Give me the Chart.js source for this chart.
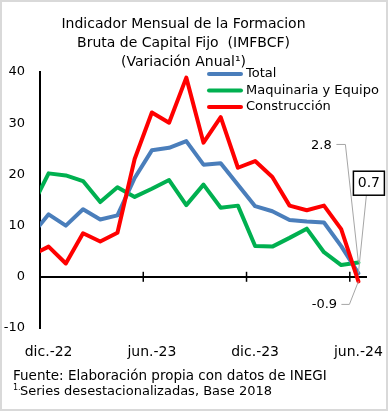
<!DOCTYPE html>
<html><head><meta charset="utf-8">
<script src="https://cdn.jsdelivr.net/npm/chart.js@4.4.0/dist/chart.umd.min.js"></script>
<style>html,body{margin:0;padding:0;background:#fff}#wrap{width:388px;height:411px;position:relative}</style>
</head><body><div id="wrap"><canvas id="c" width="388" height="411"></canvas></div>
<script>
const months = ['nov.-22','dic.-22','ene.-23','feb.-23','mar.-23','abr.-23','may.-23','jun.-23','jul.-23','ago.-23','sep.-23','oct.-23','nov.-23','dic.-23','ene.-24','feb.-24','mar.-24','abr.-24','may.-24','jun.-24'];
const total = [8.1, 12.2, 10.0, 13.2, 11.2, 12.0, 19.3, 24.7, 25.2, 26.5, 21.9, 22.2, 18.0, 13.8, 12.8, 11.1, 10.8, 10.6, 6.0, 0.7];
const maquinaria = [13.5, 20.2, 19.8, 18.7, 14.6, 17.5, 15.6, 17.2, 18.9, 14.0, 18.0, 13.5, 13.9, 6.0, 5.9, 7.6, 9.4, 4.8, 2.3, 2.8];
const construccion = [4.2, 5.9, 2.6, 8.5, 6.9, 8.6, 23.0, 32.1, 30.1, 38.9, 26.2, 31.2, 21.3, 22.6, 19.5, 13.9, 13.0, 13.9, 9.3, -0.9];
const shownLabels = ['dic.-22','jun.-23','dic.-23','jun.-24'];
const yTicks = [-10, 0, 10, 20, 30, 40];
const titleLines = ['Indicador Mensual de la Formacion', 'Bruta de Capital Fijo  (IMFBCF)', '(Variación Anual\u00B9)'];
const footerLine1 = 'Fuente: Elaboración propia con datos de INEGI';
const footerNote = '1.';
const footerLine2 = 'Series desestacionalizadas, Base 2018';
const seriesNames = ['Total', 'Maquinaria y Equipo', 'Construcción'];
const seriesColors = ['#4A7EBB', '#00B050', '#FF0000'];

const FONT = 'DejaVu Sans';
Chart.defaults.font.family = FONT;

const framePlugin = {
  id: 'frame',
  beforeDraw(chart) {
    const c = chart.ctx;
    c.save();
    c.fillStyle = '#fff';
    c.fillRect(0, 0, chart.width, chart.height);
    c.strokeStyle = '#d9d9d9';
    c.lineWidth = 2;
    c.strokeRect(1, 1, chart.width - 2, chart.height - 2);
    c.restore();
  }
};

const tickMarks = {
  id: 'tickMarks',
  beforeDatasetsDraw(chart) {
    const xs = chart.scales.x, ys = chart.scales.y, c = chart.ctx;
    const y0 = ys.getPixelForValue(0);
    c.save();
    c.strokeStyle = '#000';
    c.lineWidth = 1.5;
    shownLabels.forEach(l => {
      const i = months.indexOf(l);
      const x = (xs.getPixelForValue(i - 1) + xs.getPixelForValue(i)) / 2;
      c.beginPath();
      c.moveTo(x, y0 - 5);
      c.lineTo(x, y0 + 5);
      c.stroke();
    });
    c.restore();
  }
};

const legendPlugin = {
  id: 'customLegend',
  afterDraw(chart) {
    const a = chart.chartArea, c = chart.ctx;
    c.save();
    c.font = '13px "' + FONT + '"';
    c.textBaseline = 'middle';
    c.textAlign = 'left';
    chart.data.datasets.forEach((ds, i) => {
      const y = a.top + 2 + i * 16.5;
      c.strokeStyle = ds.borderColor;
      c.lineWidth = 4;
      c.lineCap = 'round';
      c.beginPath();
      c.moveTo(a.left + 169, y);
      c.lineTo(a.left + 201, y);
      c.stroke();
      c.fillStyle = '#000';
      c.fillText(ds.label, a.left + 206, y);
    });
    c.restore();
  }
};

const endLabels = {
  id: 'endLabels',
  afterDatasetsDraw(chart) {
    const c = chart.ctx;
    const pt = i => { const m = chart.getDatasetMeta(i); return m.data[m.data.length - 1]; };
    const val = i => { const d = chart.data.datasets[i].data; return d[d.length - 1].toFixed(1); };
    c.save();
    c.font = '13px "' + FONT + '"';
    c.textAlign = 'center';
    c.textBaseline = 'middle';
    c.strokeStyle = '#a6a6a6';
    c.lineWidth = 1;
    // Maquinaria
    let p = pt(1);
    c.beginPath(); c.moveTo(p.x - 22, p.y - 118); c.lineTo(p.x - 13, p.y - 118); c.lineTo(p.x, p.y); c.stroke();
    c.fillStyle = '#000';
    c.fillText(val(1), p.x - 37, p.y - 117);
    // Total
    p = pt(0);
    c.beginPath(); c.moveTo(p.x + 8, p.y - 78); c.lineTo(p.x, p.y); c.stroke();
    c.fillStyle = '#fff';
    c.fillRect(p.x - 5, p.y - 102, 31, 24);
    c.strokeStyle = '#000'; c.lineWidth = 1.5;
    c.strokeRect(p.x - 5, p.y - 102, 31, 24);
    c.fillStyle = '#000';
    c.font = '14px "' + FONT + '"';
    c.fillText(val(0), p.x + 10.5, p.y - 90);
    // Construccion
    p = pt(2);
    c.strokeStyle = '#a6a6a6'; c.lineWidth = 1;
    c.beginPath(); c.moveTo(p.x - 17, p.y + 23); c.lineTo(p.x - 9, p.y + 23); c.lineTo(p.x, p.y); c.stroke();
    c.font = '13px "' + FONT + '"';
    c.fillText(val(2), p.x - 34, p.y + 23);
    c.restore();
  }
};

const footerPlugin = {
  id: 'footer',
  afterDraw(chart) {
    const c = chart.ctx;
    c.save();
    c.fillStyle = '#000';
    c.textBaseline = 'middle';
    c.textAlign = 'left';
    c.font = '13.5px "' + FONT + '"';
    c.fillText(footerLine1, 13, 376);
    c.font = '8px "' + FONT + '"';
    c.fillText(footerNote, 13, 388);
    c.font = '13px "' + FONT + '"';
    c.fillText(footerLine2, 20, 392);
    c.restore();
  }
};

new Chart(document.getElementById('c'), {
  type: 'line',
  data: {
    labels: months,
    datasets: [
      { label: seriesNames[0], data: total, borderColor: seriesColors[0], borderWidth: 4, order: 1 },
      { label: seriesNames[1], data: maquinaria, borderColor: seriesColors[1], borderWidth: 4, order: 2 },
      { label: seriesNames[2], data: construccion, borderColor: seriesColors[2], borderWidth: 4, order: 0 }
    ]
  },
  options: {
    responsive: false,
    animation: false,
    devicePixelRatio: 1,
    layout: { padding: { left: 0, right: 21, top: 0, bottom: 50 } },
    elements: {
      point: { radius: 0 },
      line: { tension: 0, borderJoinStyle: 'round', borderCapStyle: 'round', fill: false }
    },
    plugins: {
      legend: { display: false },
      tooltip: { enabled: false },
      title: {
        display: true, text: titleLines, color: '#000',
        font: { family: FONT, size: 14, weight: 'normal', lineHeight: 19 / 14 },
        padding: { top: 15, bottom: 0 }
      }
    },
    scales: {
      x: {
        type: 'category', min: 'dic.-22', max: 'jun.-24', offset: true,
        grid: { display: false, drawTicks: false },
        border: { display: false },
        afterFit: s => { s.height = 33; s.paddingLeft = 0; s.paddingRight = 0; },
        ticks: {
          autoSkip: false, maxRotation: 0, padding: 16, color: '#000',
          font: { family: FONT, size: 14 },
          callback: function (v) { const l = this.getLabelForValue(v); return shownLabels.includes(l) ? l : ''; }
        }
      },
      y: {
        min: -10, max: 40,
        afterBuildTicks: s => { s.ticks = yTicks.map(v => ({ value: v })); },
        afterFit: s => { s.width = 40; s.paddingTop = 0; s.paddingBottom = 0; },
        grid: { drawTicks: false, lineWidth: 2, color: c => (c.tick && c.tick.value === 0) ? '#000' : 'rgba(0,0,0,0)' },
        border: { display: true, color: '#000', width: 2 },
        ticks: { padding: 15, color: '#000', font: { family: FONT, size: 13 } }
      }
    }
  },
  plugins: [framePlugin, tickMarks, endLabels, legendPlugin, footerPlugin]
});
</script></body></html>
